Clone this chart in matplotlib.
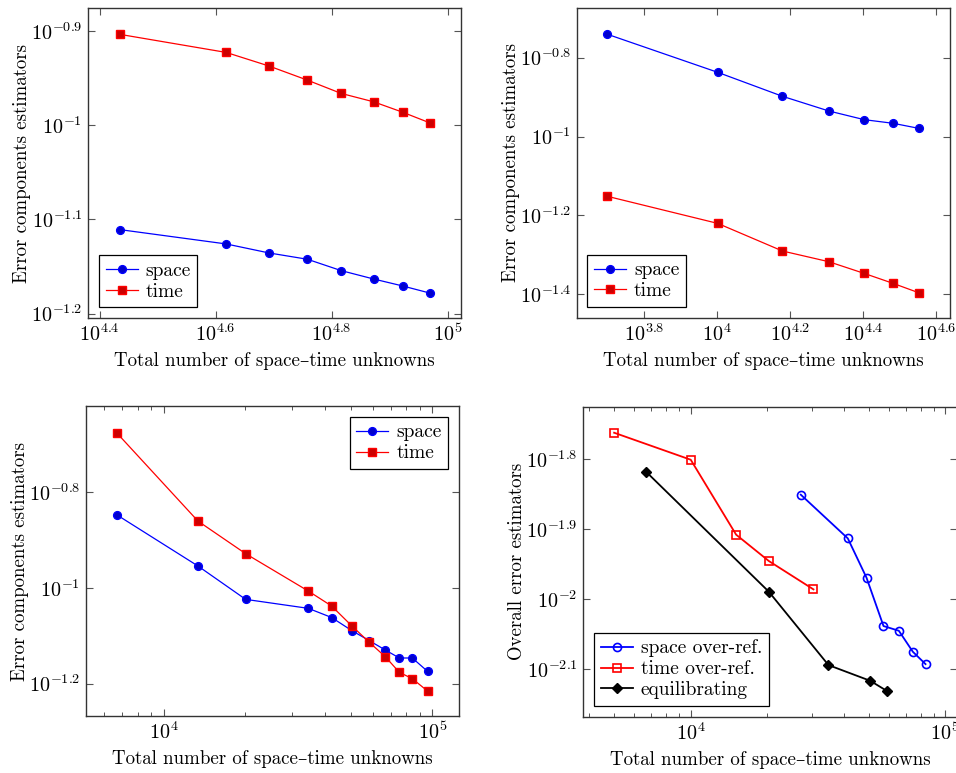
import numpy as np
import matplotlib
matplotlib.use('Agg')
import matplotlib.pyplot as plt
from matplotlib.ticker import FixedLocator, FuncFormatter, LogLocator, NullLocator, NullFormatter

##################################################################
## Data
# top left
n_a = [27200, 41500, 49200, 57300, 65500, 74500, 83600, 93100]
space_a = [0.07749, 0.07482, 0.07319, 0.07207, 0.07010, 0.06868, 0.06752, 0.06636]
time_a = [0.12488, 0.11948, 0.11557, 0.11165, 0.10809, 0.10590, 0.10324, 0.10059]
# top right
n_b = [5000, 10030, 15100, 20230, 25300, 30380, 35700]
space_b = [0.18164, 0.14549, 0.12648, 0.11610, 0.11036, 0.10803, 0.10491]
time_b = [0.07053, 0.06023, 0.05126, 0.04816, 0.04498, 0.04243, 0.04018]
# bottom left
n_c = [6683, 13420, 20200, 34550, 42200, 50230, 58300, 66830, 75400, 84260, 96070]
space_c = [0.14213, 0.11108, 0.09462, 0.09063, 0.08672, 0.08140, 0.07758,
           0.07419, 0.07139, 0.07139, 0.06693]
time_c = [0.21076, 0.13785, 0.11785, 0.09849, 0.09165, 0.08324, 0.07697,
          0.07183, 0.06664, 0.06463, 0.06089]
# bottom right
n_sp = [27070, 41430, 49070, 57220, 65740, 74640, 83700]
est_sp = [0.014112, 0.012222, 0.010740, 0.009161, 0.009020, 0.008417, 0.008083]
n_tm = [5000, 10000, 15080, 20270, 30360]
est_tm = [0.017302, 0.015831, 0.012373, 0.011346, 0.010335]
n_eq = [6674, 20270, 34780, 50720, 59160]
est_eq = [0.015220, 0.010257, 0.008057, 0.007652, 0.007396]

xlabel = 'Total number of space\u2013time unknowns'
##################################################################
plt.rcParams['font.family'] = ['cmr10', 'DejaVu Serif']
plt.rcParams['mathtext.fontset'] = 'cm'
plt.rcParams['axes.formatter.use_mathtext'] = True
plt.rcParams['font.size'] = 13.6

BLUE = '#0000ff'
RED = '#ff0000'
FS_LAB = 13.6
FS_TICK = 14.5
FS_LEG = 14


def pow10(v, pos):
    e = np.log10(v)
    return r'$10^{%s}$' % ('%g' % round(e, 2))


def style(ax, xexp, yexp, xlim, ylim, minor_x=False):
    ax.set_xscale('log')
    ax.set_yscale('log')
    ax.set_xlim(10**xlim[0], 10**xlim[1])
    ax.set_ylim(10**ylim[0], 10**ylim[1])
    ax.xaxis.set_major_locator(FixedLocator([10**e for e in xexp]))
    ax.yaxis.set_major_locator(FixedLocator([10**e for e in yexp]))
    ax.xaxis.set_major_formatter(FuncFormatter(pow10))
    ax.yaxis.set_major_formatter(FuncFormatter(pow10))
    ax.yaxis.set_minor_locator(NullLocator())
    if minor_x:
        ax.xaxis.set_minor_locator(LogLocator(base=10, subs=np.arange(2, 10)))
    else:
        ax.xaxis.set_minor_locator(NullLocator())
    ax.xaxis.set_minor_formatter(NullFormatter())
    ax.tick_params(which='both', direction='in', top=True, right=True,
                   color='#555555', labelsize=FS_TICK)
    ax.tick_params(which='major', length=5, width=0.8, pad=4)
    ax.tick_params(which='minor', length=3, width=0.7)
    for s in ax.spines.values():
        s.set_color('#333333')
        s.set_linewidth(1.0)
    ax.set_xlabel(xlabel, fontsize=FS_LAB, labelpad=5)


def legend(ax, loc):
    leg = ax.legend(loc=loc, fancybox=False, edgecolor='black', framealpha=1,
                    fontsize=FS_LEG, handlelength=1.65, borderpad=0.35,
                    labelspacing=0.15, handletextpad=0.4, borderaxespad=0.55)
    leg.get_frame().set_linewidth(0.9)


fig = plt.figure(figsize=(9.56, 7.73), dpi=100)

# top left
ax = fig.add_axes([0.0921, 0.5886, 0.3902, 0.4010])
ax.plot(n_a, space_a, '-o', color=BLUE, mfc='#0000cc', mec=BLUE, ms=5.6, lw=0.9, label='space')
ax.plot(n_a, time_a, '-s', color=RED, mfc='#cc0000', mec=RED, ms=5.8, lw=0.9, label='time')
style(ax, [4.4, 4.6, 4.8, 5.0], [-0.9, -1.0, -1.1, -1.2], (4.380, 5.023), (-1.2046, -0.8756))
ax.set_ylabel('Error components estimators', fontsize=FS_LAB, labelpad=0)
legend(ax, 'lower left')

# top right
ax = fig.add_axes([0.6032, 0.589, 0.3905, 0.4007])
ax.plot(n_b, space_b, '-o', color=BLUE, mfc='#0000cc', mec=BLUE, ms=5.6, lw=0.9, label='space')
ax.plot(n_b, time_b, '-s', color=RED, mfc='#cc0000', mec=RED, ms=5.8, lw=0.9, label='time')
style(ax, [3.8, 4.0, 4.2, 4.4, 4.6], [-0.8, -1.0, -1.2, -1.4], (3.6144, 4.6384), (-1.4593, -0.674))
ax.set_ylabel('Error components estimators', fontsize=FS_LAB, labelpad=0)
legend(ax, 'lower left')

# bottom left
ax = fig.add_axes([0.0896, 0.0737, 0.3905, 0.4010])
ax.plot(n_c, space_c, '-o', color=BLUE, mfc='#0000cc', mec=BLUE, ms=5.6, lw=0.9, label='space')
ax.plot(n_c, time_c, '-s', color=RED, mfc='#cc0000', mec=RED, ms=5.8, lw=0.9, label='time')
style(ax, [4, 5], [-0.8, -1.0, -1.2], (3.7097, 5.0993), (-1.2675, -0.6205), minor_x=True)
ax.set_ylabel('Error components estimators', fontsize=FS_LAB, labelpad=0)
legend(ax, 'upper right')

# bottom right
ax = fig.add_axes([0.6102, 0.0728, 0.391, 0.4010])
ax.plot(n_sp, est_sp, '-o', color=BLUE, mfc='none', mec=BLUE, ms=5.8, mew=1.2, lw=1.3,
        label='space over-ref.')
ax.plot(n_tm, est_tm, '-s', color=RED, mfc='none', mec=RED, ms=5.8, mew=1.2, lw=1.3,
        label='time over-ref.')
ax.plot(n_eq, est_eq, '-D', color='black', mfc='black', mec='black', ms=5.2, lw=1.3,
        label='equilibrating')
style(ax, [4, 5], [-1.8, -1.9, -2.0, -2.1], (3.578, 5.047), (-2.1676, -1.7248), minor_x=True)
ax.set_ylabel('Overall error estimators', fontsize=FS_LAB, labelpad=0)
legend(ax, 'lower left')

plt.savefig('out.png', dpi=100)
plt.close()
